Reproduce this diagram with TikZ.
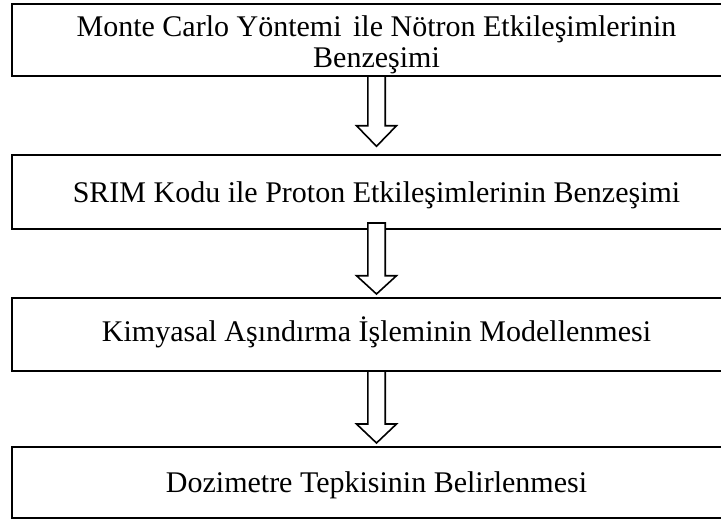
\documentclass[tikz,border=0pt]{standalone}
\usepackage{fontspec}
\setmainfont{Liberation Serif}
\usetikzlibrary{calc}
\begin{document}
\begin{tikzpicture}[x=1pt,y=-1pt,
  stepbox/.style={draw=black, line width=2pt, minimum width=729pt, inner sep=0pt,
    font=\fontsize{30}{31}\selectfont},
  oneline/.style={text height=20pt, text depth=0pt},
  blk/.style={draw=black, line width=1.6pt, line join=miter},
  blkfill/.style={blk, fill=white}]
\useasboundingbox (0,0) rectangle (721,522);

\node[stepbox, minimum height=71.5pt, align=center] (b1) at (376.5,40)
  {\rule{0pt}{31pt}Monte Carlo Yöntemi\hspace{4pt} ile Nötron Etkileşimlerinin\\Benzeşimi};
\node[stepbox, minimum height=74pt, oneline] (b2) at (376.5,192)
  {SRIM Kodu ile Proton Etkileşimlerinin Benzeşimi};
\node[stepbox, minimum height=73pt, text height=20pt, text depth=7pt] (b3) at (376.5,334.5)
  {Kimyasal Aşındırma İşleminin Modellenmesi};
\node[stepbox, minimum height=71pt, oneline] (b4) at (376.5,482.5)
  {Dozimetre Tepkisinin Belirlenmesi};

% arrow 1
\coordinate (t1) at ($(b2.north)+(0,-7.7)$);
\draw[blk] ($(b1.south)+(-8.7,0)$) -- ($(t1)+(-8.7,-20.6)$) -- ($(t1)+(-20,-20.6)$)
  -- (t1) -- ($(t1)+(20,-20.6)$) -- ($(t1)+(8.7,-20.6)$) -- ($(b1.south)+(8.7,0)$);

% arrow 2
\coordinate (t2) at ($(b3.north)+(0,-3)$);
\draw[blkfill] ($(b2.south)+(-8.7,-7)$) -- ($(t2)+(-8.7,-18.3)$) -- ($(t2)+(-20,-18.3)$)
  -- (t2) -- ($(t2)+(20,-18.3)$) -- ($(t2)+(8.7,-18.3)$) -- ($(b2.south)+(8.7,-7)$) -- cycle;

% arrow 3
\coordinate (t3) at ($(b4.north)+(0,-3)$);
\draw[blk] ($(b3.south)+(-8.7,0)$) -- ($(t3)+(-8.7,-19)$) -- ($(t3)+(-20,-19)$)
  -- (t3) -- ($(t3)+(20,-19)$) -- ($(t3)+(8.7,-19)$) -- ($(b3.south)+(8.7,0)$);
\end{tikzpicture}
\end{document}
